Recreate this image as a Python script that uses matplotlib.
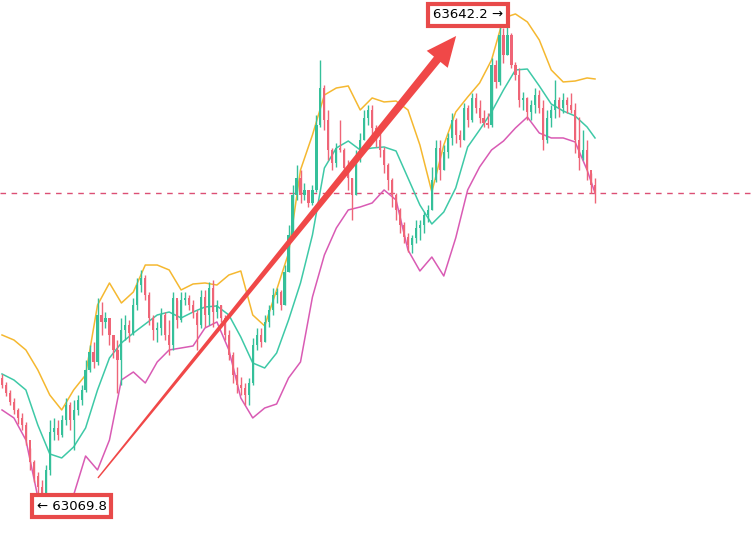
import numpy as np
import matplotlib.pyplot as plt
from matplotlib.patches import Polygon
from matplotlib.transforms import IdentityTransform

# candle data (open of each candle = previous close)
first_open = 63219.9
closes = [63211.6, 63202.2, 63191.7, 63182.3, 63172.9, 63164.6, 63147.0, 63121.2, 63104.7, 63091.8,
          63082.4, 63111.8, 63156.4, 63161.1, 63152.9, 63170.5, 63188.1, 63170.5, 63182.3, 63194.0,
          63205.8, 63229.3, 63250.4, 63238.7, 63293.9, 63285.7, 63290.4, 63270.4, 63252.8, 63241.0,
          63276.3, 63282.1, 63272.7, 63305.6, 63329.1, 63337.4, 63317.4, 63290.4, 63276.3, 63278.6,
          63293.9, 63270.4, 63258.6, 63313.9, 63288.0, 63311.5, 63313.9, 63305.6, 63296.2, 63282.1,
          63315.0, 63293.9, 63325.6, 63297.4, 63305.6, 63290.4, 63270.4, 63246.9, 63223.4, 63211.6,
          63208.1, 63199.9, 63214.0, 63258.6, 63270.4, 63262.2, 63285.7, 63299.8, 63317.4, 63320.9,
          63305.6, 63344.4, 63387.9, 63434.9, 63454.9, 63434.9, 63440.8, 63425.5, 63440.8, 63517.1,
          63560.6, 63523.0, 63487.8, 63472.5, 63490.1, 63487.8, 63466.6, 63454.9, 63434.9, 63478.4,
          63499.5, 63525.4, 63534.8, 63513.6, 63499.5, 63487.8, 63470.1, 63452.5, 63434.9, 63417.3,
          63399.6, 63385.5, 63376.1, 63384.4, 63396.1, 63399.6, 63411.4, 63417.3, 63452.5, 63490.1,
          63464.3, 63485.4, 63501.9, 63523.0, 63505.4, 63499.5, 63537.1, 63523.0, 63548.9, 63537.1,
          63525.4, 63519.5, 63517.1, 63587.6, 63567.7, 63622.9, 63599.4, 63622.9, 63587.6, 63575.9,
          63546.5, 63548.9, 63532.4, 63540.6, 63552.4, 63537.1, 63499.5, 63525.4, 63534.8, 63546.5,
          63537.1, 63546.5, 63540.6, 63534.8, 63499.5, 63478.4, 63487.8, 63464.3, 63446.6, 63437.2]
highs = [63224.6, 63215.2, 63205.8, 63196.4, 63184.6, 63178.7, 63168.2, 63137.6, 63123.5, 63109.4,
         63100.0, 63117.6, 63170.5, 63172.9, 63170.5, 63176.4, 63196.4, 63191.7, 63194.0, 63199.9,
         63211.6, 63241.0, 63258.6, 63262.2, 63313.9, 63309.2, 63297.4, 63290.4, 63270.4, 63264.5,
         63290.4, 63293.9, 63288.0, 63313.9, 63337.4, 63346.8, 63340.9, 63320.9, 63293.9, 63285.7,
         63302.1, 63297.4, 63288.0, 63320.9, 63311.5, 63320.9, 63320.9, 63317.4, 63311.5, 63299.8,
         63323.3, 63323.3, 63332.7, 63335.0, 63311.5, 63305.6, 63293.9, 63276.3, 63250.4, 63232.8,
         63221.0, 63214.0, 63219.9, 63266.9, 63278.6, 63278.6, 63293.9, 63305.6, 63325.6, 63325.6,
         63323.3, 63352.6, 63399.6, 63446.6, 63470.1, 63464.3, 63449.0, 63440.8, 63446.6, 63528.9,
         63593.5, 63564.1, 63534.8, 63490.1, 63496.0, 63523.0, 63490.1, 63476.0, 63454.9, 63487.8,
         63507.7, 63534.8, 63540.6, 63540.6, 63517.1, 63514.8, 63491.3, 63472.5, 63454.9, 63437.2,
         63419.6, 63403.2, 63390.2, 63387.9, 63405.5, 63405.5, 63414.9, 63423.1, 63467.8, 63499.5,
         63499.5, 63493.6, 63507.7, 63531.2, 63525.4, 63511.3, 63543.0, 63540.6, 63554.7, 63554.7,
         63546.5, 63534.8, 63531.2, 63595.9, 63593.5, 63634.6, 63631.1, 63642.2, 63625.2, 63591.2,
         63584.1, 63555.9, 63550.0, 63546.5, 63560.6, 63558.3, 63546.5, 63534.8, 63540.6, 63570.0,
         63550.0, 63554.7, 63550.0, 63554.7, 63543.0, 63526.5, 63511.3, 63499.5, 63460.7, 63454.9]
lows = [63208.1, 63198.7, 63188.1, 63177.6, 63165.8, 63158.8, 63141.1, 63111.8, 63097.7, 63082.4,
        63069.8, 63078.9, 63105.9, 63147.0, 63147.0, 63150.5, 63164.6, 63158.8, 63135.3, 63176.4,
        63188.1, 63203.4, 63226.9, 63231.6, 63235.1, 63270.4, 63278.6, 63258.6, 63243.4, 63202.2,
        63211.6, 63264.5, 63262.2, 63270.4, 63299.8, 63320.9, 63311.5, 63282.1, 63264.5, 63262.2,
        63270.4, 63264.5, 63246.9, 63252.8, 63278.6, 63285.7, 63305.6, 63299.8, 63290.4, 63252.8,
        63278.6, 63279.8, 63282.1, 63279.8, 63290.4, 63285.7, 63264.5, 63241.0, 63214.0, 63202.2,
        63199.9, 63188.1, 63188.1, 63211.6, 63252.8, 63256.3, 63262.2, 63279.8, 63293.9, 63308.0,
        63299.8, 63305.6, 63344.4, 63387.9, 63429.0, 63425.5, 63429.0, 63420.8, 63423.1, 63438.4,
        63514.8, 63511.3, 63476.0, 63464.3, 63467.8, 63485.4, 63460.7, 63440.8, 63405.5, 63434.9,
        63473.7, 63499.5, 63517.1, 63503.0, 63491.3, 63479.5, 63460.7, 63440.8, 63420.8, 63405.5,
        63390.2, 63378.5, 63367.9, 63366.7, 63378.5, 63382.0, 63390.2, 63403.2, 63417.3, 63450.2,
        63452.5, 63464.3, 63478.4, 63493.6, 63496.0, 63491.3, 63499.5, 63514.8, 63520.7, 63531.2,
        63519.5, 63514.8, 63513.6, 63514.8, 63560.6, 63564.1, 63590.0, 63599.4, 63584.1, 63570.0,
        63538.3, 63534.8, 63523.0, 63523.0, 63531.2, 63531.2, 63487.8, 63496.0, 63514.8, 63525.4,
        63526.5, 63531.2, 63531.2, 63531.2, 63484.2, 63464.3, 63476.0, 63452.5, 63437.2, 63425.5]

# bollinger bands, read every 3rd candle
band_idx = list(range(0, 150, 3)) + [149]
upper = [63270.4, 63264.5, 63252.8, 63229.3, 63199.9, 63182.3, 63205.8, 63223.4, 63305.6, 63331.5,
         63308.0, 63320.9, 63352.6, 63352.6, 63346.8, 63323.3, 63330.3, 63331.5, 63329.1, 63340.9,
         63345.6, 63293.9, 63281.0, 63323.3, 63366.7, 63464.3, 63505.4, 63552.4, 63560.6, 63563.0,
         63534.8, 63548.9, 63544.2, 63545.3, 63534.8, 63493.6, 63438.4, 63493.6, 63532.4, 63550.0,
         63566.5, 63593.5, 63642.9, 63647.6, 63638.2, 63617.0, 63581.8, 63567.7, 63568.8, 63572.4,
         63571.2]
middle = [63224.6, 63217.5, 63205.8, 63164.6, 63130.6, 63125.9, 63138.8, 63161.1, 63205.8, 63243.4,
          63261.0, 63272.7, 63283.3, 63293.9, 63297.4, 63290.4, 63297.4, 63303.3, 63304.5, 63293.9,
          63268.0, 63237.5, 63231.6, 63249.2, 63288.0, 63331.5, 63387.9, 63466.6, 63490.1, 63498.3,
          63487.8, 63490.1, 63491.3, 63486.6, 63454.9, 63423.1, 63400.8, 63414.9, 63443.1, 63491.3,
          63511.3, 63532.4, 63558.3, 63581.8, 63582.9, 63563.0, 63541.8, 63533.6, 63527.7, 63514.8,
          63501.9]
lower = [63182.3, 63172.9, 63147.0, 63080.0, 63062.4, 63068.3, 63082.4, 63128.2, 63111.8, 63147.0,
         63217.5, 63226.9, 63214.0, 63238.7, 63252.8, 63255.1, 63257.5, 63278.6, 63285.7, 63252.8,
         63196.4, 63172.9, 63184.6, 63189.3, 63219.9, 63238.7, 63315.0, 63364.4, 63396.1, 63417.3,
         63420.8, 63425.5, 63440.8, 63429.0, 63370.3, 63345.6, 63362.0, 63339.7, 63384.4, 63440.8,
         63467.8, 63487.8, 63498.3, 63513.6, 63526.5, 63507.7, 63501.9, 63501.9, 63497.2, 63464.3,
         63437.2]

high_label = "63642.2"
low_label = "63069.8"

closes = np.array(closes)
highs = np.array(highs)
lows = np.array(lows)
opens = np.r_[first_open, closes[:-1]]
x = np.arange(len(closes))
rising = closes >= opens

green = "#35c09a"
red = "#ef6577"

fig = plt.figure(figsize=(7.51, 5.36), dpi=100)
ax = fig.add_axes([0, 0, 1, 1])
ax.axis("off")
ax.set_xlim(-0.503, 188.19)
ax.set_ylim(63034.2, 63664.0)

ax.axhline(closes[-1], color="#dc4f75", lw=1, ls=(0, (4, 4)), zorder=1)

ax.plot(band_idx, upper, color="#f5b830", lw=1.1, zorder=2)
ax.plot(band_idx, middle, color="#3ec9a7", lw=1.1, zorder=2)
ax.plot(band_idx, lower, color="#d95bb4", lw=1.1, zorder=2)

cols = np.where(rising, green, red)
ax.vlines(x, lows, highs, colors=cols, lw=1.0, zorder=3)
body = np.maximum(np.abs(closes - opens), 1.0)
ax.bar(x, body, bottom=np.minimum(opens, closes), width=0.55, color=cols, zorder=3)

# big red arrow: thin tail widening towards a triangular head (drawn in pixels)
S = ax.transData.transform((24.1, 63102.4))
T = ax.transData.transform((114.1, 63621.7))
d = (T - S) / np.hypot(*(T - S))
n = np.array([-d[1], d[0]])
B = T - d * 30
pts = [S + n * 0.7, B + n * 4.2, B + n * 13.5, T, B - n * 13.5, B - n * 4.2, S - n * 0.7]
ax.add_patch(Polygon(pts, closed=True, fc="#f04848", ec="none",
                     transform=IdentityTransform(), zorder=5))

box = dict(boxstyle="square,pad=0.35", fc="white", ec="#e84a4a", lw=3)
fig.text(468 / 751, 1 - 15 / 536, high_label + " \u2192", fontsize=9.5, ha="center", va="center",
         bbox=box, zorder=6)
fig.text(71.5 / 751, 1 - 506 / 536, "\u2190 " + low_label, fontsize=9.5, ha="center", va="center",
         bbox=box, zorder=6)

fig.savefig("out.png", dpi=100)
